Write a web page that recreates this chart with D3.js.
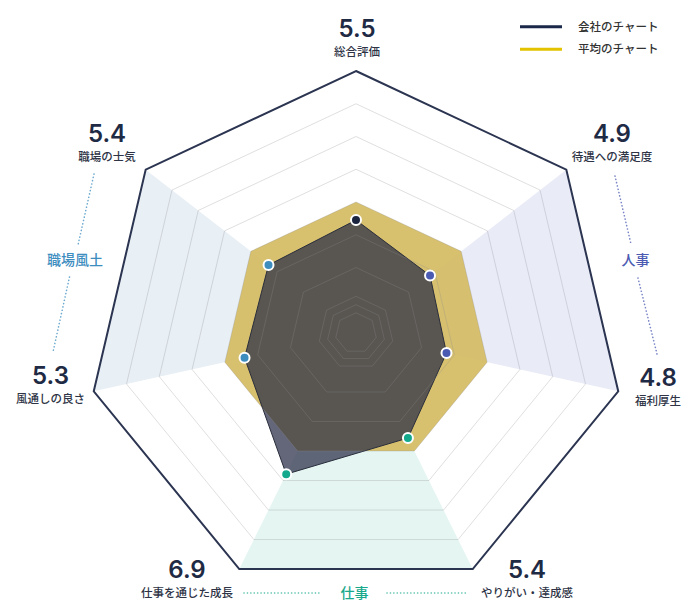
<!DOCTYPE html>
<html>
<head>
<meta charset="utf-8">
<script src="https://cdn.jsdelivr.net/npm/d3@7/dist/d3.min.js"></script>
<style>
  html, body { margin: 0; padding: 0; background: #ffffff; }
  svg { display: block; }
</style>
</head>
<body>
<svg id="chart" width="700" height="616"></svg>
<script>
// ---- data ----
const categories = ["総合評価", "待遇への満足度", "福利厚生", "やりがい・達成感", "仕事を通じた成長", "風通しの良さ", "職場の士気"];
const displayValues = [5.5, 4.9, 4.8, 5.4, 6.9, 5.3, 5.4];
const companyScores = [43.1, 35.2, 34.5, 44.5, 59.8, 42.5, 41.6];   // plotted radius, 0-100 scale
const averageScores = [50, 50, 50, 50, 50, 50, 50];
const ringLevels = [7.7, 10.8, 14, 25, 37.5, 50, 62.5, 75, 87.5];
const outerLevel = 100;
const groupNames = ["人事", "仕事", "職場風土"];
const groupAxes = [[1, 2], [3, 4], [5, 6]];
const legendNames = ["会社のチャート", "平均のチャート"];

// ---- layout / style ----
const svg = d3.select("#chart");
const cx = 356, cy = 333;
const rx = d3.scaleLinear().domain([0, 100]).range([0, 269]);
const ry = d3.scaleLinear().domain([0, 100]).range([0, 262]);
const n = categories.length;
const angle = i => i * 2 * Math.PI / n;
const pt = (i, v) => [cx + rx(v) * Math.sin(angle(i)), cy - ry(v) * Math.cos(angle(i))];

const groupFill = ["#e9ebf7", "#e5f6f2", "#e8eff5"];
const groupColor = ["#4b5bb2", "#18a98c", "#3e8dbf"];
const dotColor = ["#1b2540", "#4b5bb2", "#4b5bb2", "#14a98c", "#14a98c", "#3e8dbf", "#3e8dbf"];
const navy = "#1f2a44";

const line = d3.line().curve(d3.curveLinearClosed);

// wedge fills
groupAxes.forEach((ax, g) => {
  svg.append("path")
    .attr("d", "M" + [cx, cy] + "L" + pt(ax[0], outerLevel) + "L" + pt(ax[1], outerLevel) + "Z")
    .attr("fill", groupFill[g]);
});

// average polygon
svg.append("path")
  .attr("d", line(averageScores.map((v, i) => pt(i, v))))
  .attr("fill", "#d5bd66")
  .attr("fill-opacity", 0.95);

// company polygon
svg.append("path")
  .attr("d", line(companyScores.map((v, i) => pt(i, v))))
  .attr("fill", "rgb(40,45,70)")
  .attr("fill-opacity", 0.72)
  .attr("stroke", "#2a2e3c")
  .attr("stroke-width", 1);

// grid rings (on top, translucent)
const grid = svg.append("g").attr("fill", "none").attr("stroke", "rgb(140,140,145)").attr("stroke-opacity", 0.28).attr("stroke-width", 1);
ringLevels.forEach(lv => {
  grid.append("path").attr("d", line(d3.range(n).map(i => pt(i, lv))));
});

// outer heptagon
svg.append("path")
  .attr("d", line(d3.range(n).map(i => pt(i, outerLevel))))
  .attr("fill", "none")
  .attr("stroke", "#2b3450")
  .attr("stroke-width", 2)
  .attr("stroke-linejoin", "miter");

// dots
companyScores.forEach((v, i) => {
  const p = pt(i, v);
  svg.append("circle")
    .attr("cx", p[0]).attr("cy", p[1]).attr("r", 5)
    .attr("fill", dotColor[i])
    .attr("stroke", "#ffffff").attr("stroke-width", 2);
});

// axis labels
const labelPos = [[357, 37], [612, 141.5], [658, 386], [527, 578], [187, 578], [50.5, 384], [107, 141.5]];
categories.forEach((c, i) => {
  const [x, y] = labelPos[i];
  svg.append("text")
    .attr("x", x).attr("y", y)
    .attr("text-anchor", "middle")
    .attr("font-family", "Inter, 'Noto Sans', sans-serif")
    .attr("font-weight", 600)
    .attr("font-size", 24)
    .attr("fill", navy)
    .text(d3.format(".1f")(displayValues[i]));
  svg.append("text")
    .attr("x", x).attr("y", y + 19)
    .attr("text-anchor", "middle")
    .attr("font-family", "'Noto Sans CJK JP', sans-serif")
    .attr("font-weight", 500)
    .attr("font-size", 11.5)
    .attr("fill", "#2e3446")
    .text(c);
});

// group labels with dotted connectors
const groupLabelPos = [[635.5, 265], [354.5, 598], [75, 265]];
const groupDots = [
  [[[615, 176], [631, 244]], [[638, 278], [657, 354]]],
  [[[244, 593], [322, 593]], [[387, 593], [468, 593]]],
  [[[94, 174], [78, 245]], [[69.5, 277], [53, 352]]]
];
groupNames.forEach((name, g) => {
  svg.append("text")
    .attr("x", groupLabelPos[g][0]).attr("y", groupLabelPos[g][1])
    .attr("text-anchor", "middle")
    .attr("font-family", "'Noto Sans CJK JP', sans-serif")
    .attr("font-weight", 500)
    .attr("font-size", 14)
    .attr("fill", groupColor[g])
    .text(name);
  groupDots[g].forEach(seg => {
    svg.append("line")
      .attr("x1", seg[0][0]).attr("y1", seg[0][1])
      .attr("x2", seg[1][0]).attr("y2", seg[1][1])
      .attr("stroke", groupColor[g])
      .attr("stroke-opacity", 0.75)
      .attr("stroke-width", 1.6)
      .attr("stroke-linecap", "round")
      .attr("stroke-dasharray", "0.1,3.3");
  });
});

// legend
const legendColor = ["#1a2849", "#e3c200"];
legendNames.forEach((name, k) => {
  const y = 26.7 + k * 22.6;
  svg.append("line")
    .attr("x1", 520).attr("x2", 562).attr("y1", y).attr("y2", y)
    .attr("stroke", legendColor[k]).attr("stroke-width", 3);
  svg.append("text")
    .attr("x", 578).attr("y", y + 4)
    .attr("font-family", "'Noto Sans CJK JP', sans-serif")
    .attr("font-size", 11.5)
    .attr("font-weight", 500)
    .attr("fill", "#333333")
    .text(name);
});
</script>
</body>
</html>
